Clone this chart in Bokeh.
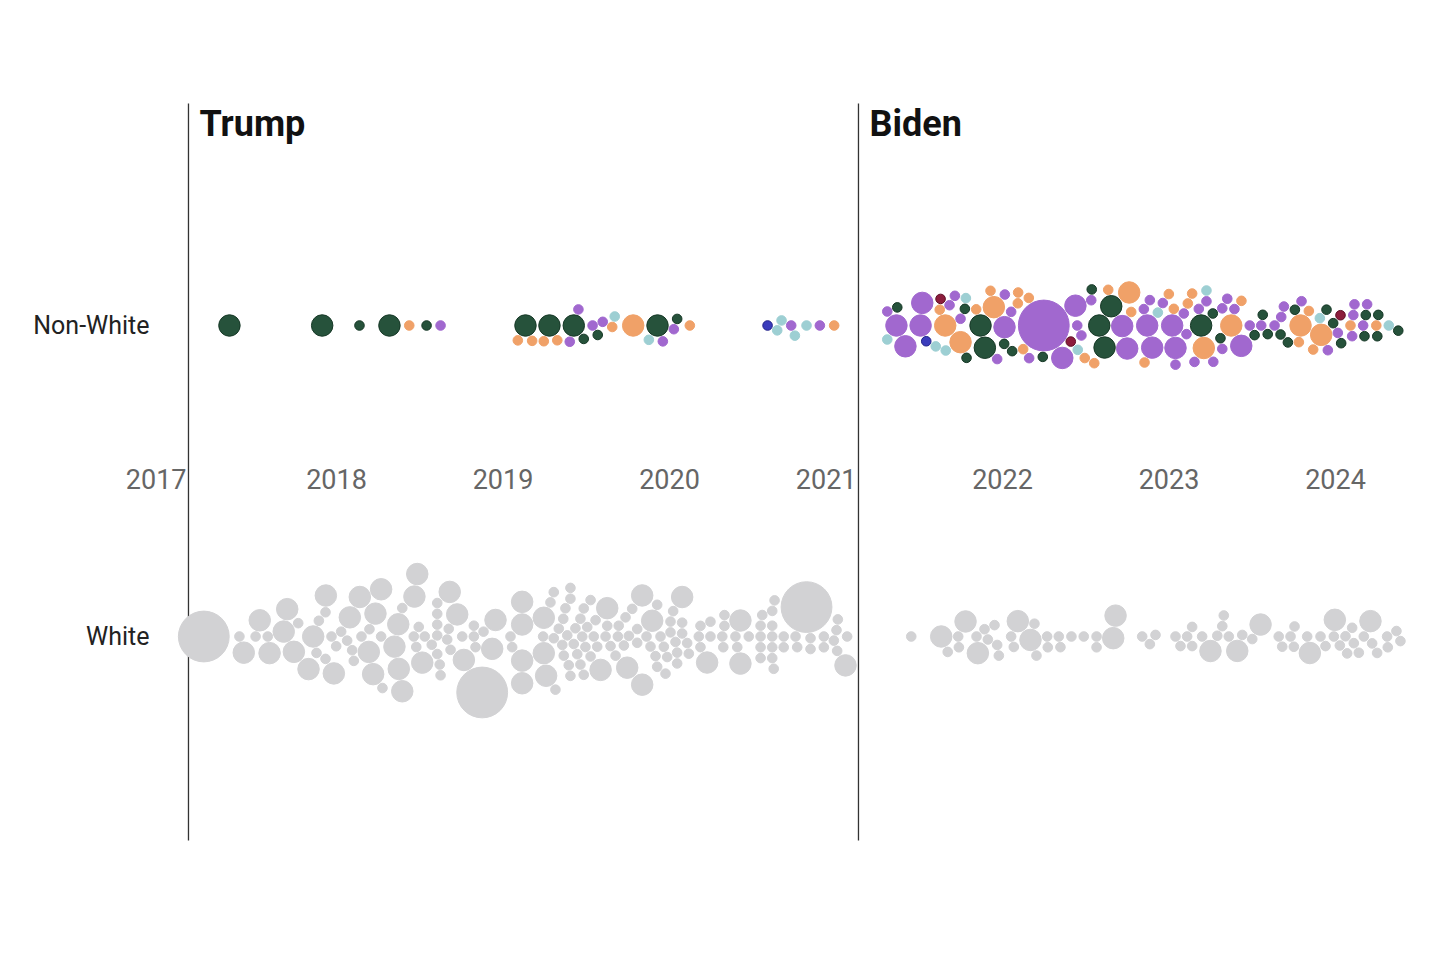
import math
from bokeh.plotting import figure
from bokeh.models import Range1d, ColumnDataSource
from bokeh.embed import file_html
from bokeh.resources import INLINE
from bokeh.core.properties import value

# ---------------- data ----------------
terms = ["Trump", "Biden"]
term_start = [2017.111, 2021.135]
year_ticks = [2017, 2018, 2019, 2020, 2021, 2022, 2023, 2024]
rows = ["Non-White", "White"]

# Non-White appointments: decimal date, count, group
nw_year = [
    2017.357, 2017.914, 2018.138, 2018.318, 2018.437, 2018.541, 2018.625,
    2019.135, 2019.245, 2019.326, 2019.089, 2019.175, 2019.279, 2019.453, 2019.401,
    2019.485, 2019.569, 2019.425, 2019.538, 2019.599, 2019.656, 2019.671, 2019.782,
    2019.876, 2019.960, 2020.026, 2019.928, 2020.046, 2020.122,
    2020.589, 2020.647, 2020.731, 2020.673, 2020.753, 2020.823, 2020.903, 2020.989,
    2021.308, 2021.308, 2021.368, 2021.417, 2021.363, 2021.508, 2021.518, 2021.542,
    2021.599, 2021.623, 2021.659, 2021.714, 2021.682, 2021.656, 2021.628, 2021.748,
    2021.748, 2021.780, 2021.784, 2021.774, 2021.894, 2021.868, 2021.842, 2021.948,
    2021.968, 2022.012, 2022.014, 2022.092, 2022.160, 2022.052, 2021.928, 2022.010,
    2022.094, 2022.058, 2022.158, 2022.124, 2022.242, 2022.248, 2022.359, 2022.474,
    2022.410, 2022.494, 2022.449, 2022.452, 2022.438, 2022.536, 2022.533, 2022.613,
    2022.653, 2022.581, 2022.551, 2022.635, 2022.773, 2022.761, 2022.749, 2022.719,
    2022.849, 2022.853, 2022.899, 2023.039, 2023.193, 2022.999, 2022.933, 2023.139,
    2023.263, 2023.374, 2023.089, 2023.209, 2023.320, 2023.434, 2023.485, 2023.029,
    2022.885, 2022.963, 2023.105, 2023.039, 2023.179, 2023.266, 2023.320, 2023.350,
    2023.435, 2023.113, 2022.869, 2023.019, 2023.153, 2023.225, 2023.309, 2023.393,
    2023.225, 2023.563, 2023.554, 2023.514, 2023.593, 2023.670, 2023.756, 2023.634,
    2023.714, 2023.674, 2023.690, 2023.840, 2023.796, 2023.790, 2023.914, 2023.780,
    2023.866, 2023.946, 2024.014, 2024.090, 2024.166, 2024.030, 2023.906, 2023.954,
    2023.986, 2024.034, 2024.100, 2024.107, 2024.114, 2024.174, 2024.182, 2024.190,
    2024.245, 2024.251, 2024.257, 2024.320, 2024.377,
]
nw_count = [
    5, 5, 1, 5, 1, 1, 1,
    5, 1, 1, 1, 1, 5, 1, 1,
    1, 1, 5, 1, 1, 1, 1, 5,
    1, 1, 1, 5, 1, 1,
    1, 1, 1, 1, 1, 1, 1, 1,
    1, 1, 1, 5, 5, 5, 5, 1,
    1, 1, 1, 1, 1, 5, 1, 5,
    1, 1, 1, 1, 5, 5, 1, 5,
    1, 5, 1, 1, 1, 1, 1, 1,
    1, 1, 1, 1, 1, 28, 5, 1,
    1, 1, 1, 1, 5, 1, 1, 5,
    5, 5, 1, 1, 1, 5, 5, 5,
    1, 1, 5, 5, 5, 1, 1, 1,
    1, 5, 1, 5, 1, 5, 1, 1,
    1, 1, 1, 1, 1, 1, 1, 1,
    1, 1, 5, 5, 1, 1, 1, 1,
    1, 1, 1, 1, 1, 1, 1, 1,
    1, 1, 1, 1, 1, 5, 5, 1,
    1, 1, 1, 1, 1, 1, 1, 1,
    1, 1, 1, 1, 1, 1, 1, 1,
    1, 1, 1, 1, 1,
]
nw_group = [
    "A", "A", "A", "A", "B", "A", "C",
    "A", "B", "B", "B", "B", "A", "C", "C",
    "A", "A", "A", "C", "C", "B", "D", "B",
    "D", "C", "C", "A", "A", "B",
    "E", "D", "C", "D", "D", "D", "C", "B",
    "D", "C", "A", "C", "C", "C", "C", "E",
    "D", "B", "D", "C", "C", "B", "F", "B",
    "C", "D", "A", "A", "A", "A", "B", "B",
    "C", "C", "C", "B", "C", "C", "B", "A",
    "B", "A", "B", "B", "A", "C", "C", "C",
    "F", "B", "C", "D", "C", "A", "C", "A",
    "A", "A", "B", "B", "B", "B", "C", "C",
    "C", "B", "C", "C", "A", "B", "D", "B",
    "A", "B", "C", "B", "C", "C", "C", "B",
    "C", "C", "C", "C", "C", "C", "C", "C",
    "B", "B", "C", "C", "C", "C", "A", "C",
    "D", "A", "C", "A", "A", "A", "A", "C",
    "A", "C", "C", "B", "C", "B", "B", "B",
    "B", "A", "C", "B", "C", "F", "D", "C",
    "A", "A", "C", "C", "C", "A", "A", "C",
    "B", "A", "A", "D", "A",
]

# White appointments: decimal date, count
w_year = [
    2017.203, 2017.443, 2017.417, 2017.514, 2017.587, 2017.539, 2017.598, 2017.704,
    2017.744, 2017.683, 2017.770, 2017.860, 2017.832, 2017.894, 2017.936, 2017.970,
    2017.934, 2017.880, 2017.934, 2017.998, 2018.028, 2017.984, 2018.080, 2018.094,
    2018.150, 2018.064, 2018.140, 2018.104, 2018.198, 2018.234, 2018.194, 2018.268,
    2018.268, 2018.276, 2018.220, 2018.371, 2018.348, 2018.395, 2018.395, 2018.374,
    2018.468, 2018.494, 2018.485, 2018.464, 2018.479, 2018.530, 2018.515, 2018.572,
    2018.605, 2018.625, 2018.605, 2018.605, 2018.620, 2018.605, 2018.605, 2018.665,
    2018.680, 2018.725, 2018.765, 2018.685, 2018.674, 2018.755, 2018.825, 2018.835,
    2018.875, 2018.935, 2018.955, 2018.825, 2018.883,
    2019.115, 2019.115, 2019.115, 2019.115, 2019.045, 2019.055, 2019.259, 2019.245,
    2019.245, 2019.362, 2019.305, 2019.395, 2019.476, 2019.556, 2019.241, 2019.315,
    2019.365, 2019.435, 2019.526, 2019.616, 2019.405, 2019.485, 2019.305, 2019.375,
    2019.446, 2019.526, 2019.586, 2019.690, 2019.676, 2019.626, 2019.285, 2019.356,
    2019.425, 2019.506, 2019.566, 2019.405, 2019.485, 2019.335, 2019.405, 2019.495,
    2019.386, 2019.465, 2019.545, 2019.626, 2019.646, 2019.726, 2019.736, 2019.746,
    2019.862, 2019.836, 2019.776, 2019.695, 2019.756, 2019.896, 2019.836, 2019.886,
    2019.926, 2019.926, 2019.916, 2020.006, 2020.076, 2019.986, 2020.046, 2019.946,
    2020.022, 2019.966, 2020.076, 2020.006, 2020.076, 2019.976, 2020.046, 2020.116,
    2020.186, 2020.226, 2020.176, 2020.246, 2020.246, 2020.330, 2020.396, 2020.323,
    2020.426, 2020.330, 2020.407, 2020.476, 2020.317, 2020.426, 2020.557, 2020.631,
    2020.547, 2020.547, 2020.547, 2020.547, 2020.617, 2020.617, 2020.617, 2020.617,
    2020.617, 2020.686, 2020.686, 2020.767, 2020.847, 2020.847, 2020.757, 2020.927,
    2020.927, 2021.007, 2021.003, 2020.987, 2021.067, 2020.823, 2021.011, 2021.057,
    2020.626, 2020.106, 2020.036, 2019.806, 2019.806, 2019.465, 2020.186,
    2021.452, 2021.632, 2021.671, 2021.734, 2021.778, 2021.738, 2021.844, 2021.852,
    2021.912, 2021.892, 2021.978, 2021.952, 2021.968, 2022.092, 2022.052, 2022.068,
    2022.168, 2022.192, 2022.204, 2022.272, 2022.268, 2022.338, 2022.348, 2022.414,
    2022.488, 2022.565, 2022.565, 2022.665, 2022.679, 2022.839, 2022.919, 2022.885,
    2023.039, 2023.109, 2023.069, 2023.139, 2023.199, 2023.139, 2023.249, 2023.290,
    2023.329, 2023.410, 2023.320, 2023.359, 2023.440, 2023.500, 2023.550, 2023.659,
    2023.730, 2023.680, 2023.750, 2023.754, 2023.830, 2023.846, 2023.910, 2023.940,
    2023.990, 2023.996, 2024.026, 2024.060, 2024.070, 2024.100, 2024.110, 2024.140,
    2024.210, 2024.170, 2024.250, 2024.220, 2024.310, 2024.314, 2024.366, 2024.390,
]
w_count = [
    28, 5, 1, 1, 1, 5, 5, 5,
    5, 5, 1, 5, 5, 1, 5, 1,
    1, 1, 1, 1, 1, 5, 5, 1,
    1, 1, 5, 1, 1, 5, 5, 1,
    5, 1, 5, 5, 5, 1, 5, 5,
    5, 1, 5, 1, 1, 1, 5, 1,
    1, 1, 1, 1, 1, 1, 1, 1,
    5, 5, 5, 1, 1, 1, 1, 1,
    28, 5, 5, 1, 1,
    5, 5, 5, 5, 1, 1, 5, 5,
    5, 1, 1, 1, 1, 1, 1, 1,
    1, 1, 1, 1, 1, 1, 1, 1,
    1, 1, 5, 1, 1, 5, 1, 1,
    1, 1, 1, 1, 1, 1, 1, 1,
    1, 1, 1, 1, 1, 1, 1, 5,
    1, 5, 1, 1, 1, 5, 5, 1,
    1, 1, 1, 1, 1, 1, 1, 1,
    1, 1, 5, 1, 1, 1, 1, 1,
    1, 5, 1, 1, 1, 1, 1, 1,
    5, 1, 1, 1, 1, 5, 1, 1,
    1, 1, 1, 1, 1, 1, 1, 1,
    1, 1, 1, 1, 1, 1, 1, 1,
    1, 1, 1, 1, 1, 28, 1, 5,
    1, 1, 1, 1, 1, 1, 1,
    1, 5, 1, 1, 5, 1, 1, 5,
    1, 1, 1, 1, 1, 5, 1, 1,
    5, 1, 1, 1, 1, 1, 1, 1,
    1, 1, 1, 5, 5, 1, 1, 1,
    1, 1, 1, 1, 1, 1, 5, 1,
    1, 5, 1, 1, 1, 1, 5, 1,
    1, 1, 1, 1, 1, 5, 1, 1,
    1, 5, 1, 1, 1, 1, 1, 1,
    5, 1, 1, 1, 1, 1, 1, 1,
]

# ---------------- styles / layout ----------------
palette = {"A": "#26523b", "B": "#f0a168", "C": "#a168cf", "D": "#9dcfd3",
           "E": "#3b3cbc", "F": "#8c1d3c", "W": "#d2d2d4"}
edge = {"A": "#163826", "B": "#f0a168", "C": "#a168cf", "D": "#9dcfd3",
        "E": "#23238a", "F": "#5e0f26", "W": "#d2d2d4"}

PX_PER_YEAR = 166.5
W, H = 1430, 950
X0 = 2017 - 169.5 / PX_PER_YEAR
row_center = {"Non-White": 325.0, "White": 636.0}
R_UNIT = 4.8
PAD = 1.2


def swarm(xs, rs, big_first):
    if big_first:
        order = sorted(range(len(xs)), key=lambda i: (-rs[i], xs[i]))
    else:
        order = sorted(range(len(xs)), key=lambda i: xs[i])
    ys = [0.0] * len(xs)
    placed = []
    for i in order:
        iv = []
        for j in placed:
            d = rs[i] + rs[j] + PAD
            dx = xs[i] - xs[j]
            if abs(dx) < d:
                h = math.sqrt(d * d - dx * dx)
                iv.append((ys[j] - h, ys[j] + h))
        cands = [0.0] + [v for ab in iv for v in ab]
        cands.sort(key=lambda c: (abs(c), -c))
        for c in cands:
            if all(c <= a + 1e-6 or c >= b - 1e-6 for a, b in iv):
                ys[i] = c
                break
        placed.append(i)
    return ys


def build(years, counts, groups, row, big_first):
    xs = [y * PX_PER_YEAR for y in years]
    rs = [R_UNIT * math.sqrt(c) for c in counts]
    offs = swarm(xs, rs, big_first)
    return dict(
        x=list(years),
        y=[-(row_center[row] + o) for o in offs],
        d=[2 * r for r in rs],
        fill=[palette[g] for g in groups],
        line=[edge[g] for g in groups],
    )


p = figure(width=W, height=H, output_backend="svg", toolbar_location=None,
           x_range=Range1d(X0, X0 + W / PX_PER_YEAR), y_range=Range1d(-H, 0),
           x_axis_type=None, y_axis_type=None, min_border=0,
           outline_line_color=None, background_fill_color="white",
           border_fill_color="white")
p.grid.visible = False

# term dividers
p.segment(x0=term_start, y0=[-103] * 2, x1=term_start, y1=[-840] * 2,
          line_color="#333333", line_width=1.3)
p.text(x=term_start, y=[-123] * 2, text=terms, x_offset=11,
       text_font=value("Roboto"), text_font_style="bold", text_font_size="36px",
       text_color="#111111", text_baseline="middle", text_align="left")

# circles
nw_src = ColumnDataSource(build(nw_year, nw_count, nw_group, "Non-White", True))
w_src = ColumnDataSource(build(w_year, w_count, ["W"] * len(w_year), "White", False))
for src in (w_src, nw_src):
    p.scatter(x="x", y="y", size="d", marker="circle", fill_color="fill",
              line_color="line", line_width=1, source=src)

# row labels
label_x = X0 + 149 / PX_PER_YEAR
p.text(x=[label_x] * 2, y=[-row_center[r] for r in rows], text=rows,
       text_font=value("Roboto"), text_font_size="25px", text_color="#222222",
       text_align="right", text_baseline="middle")

# year labels
cx, ctext, rx, rtext = [], [], [], []
for yr in year_ticks:
    near = [t for t in term_start if 0 <= (t - yr) * PX_PER_YEAR < 32]
    if near:
        rx.append(near[0]); rtext.append(str(yr))
    else:
        cx.append(yr); ctext.append(str(yr))
p.text(x=cx, y=[-478] * len(cx), text=ctext, text_font=value("Roboto"),
       text_font_size="27px", text_color="#666666", text_align="center",
       text_baseline="middle")
p.text(x=rx, y=[-478] * len(rx), text=rtext, x_offset=-2, text_font=value("Roboto"),
       text_font_size="27px", text_color="#666666", text_align="right",
       text_baseline="middle")

open("out.html", "w").write(file_html(p, INLINE))
